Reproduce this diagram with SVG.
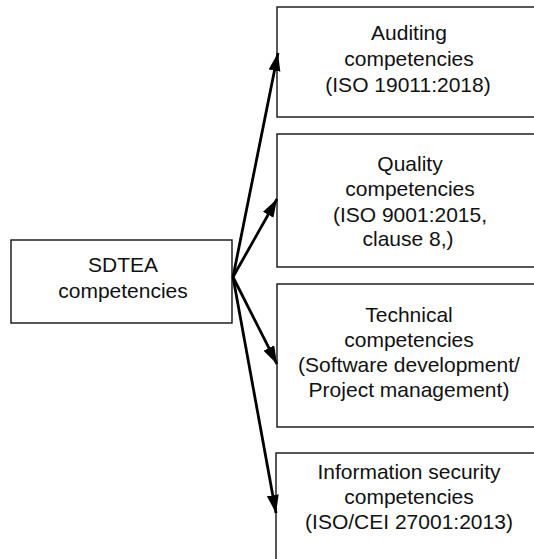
<svg xmlns="http://www.w3.org/2000/svg" width="534" height="559" viewBox="0 0 534 559">
<style>
.box{fill:#fff;stroke:#111;stroke-width:1.4}
.lbl{font-family:"Liberation Sans",Arial,sans-serif;font-size:21px;fill:#111;text-anchor:middle}
.conn{stroke:#000;stroke-width:2.8;fill:none}
</style>
<defs>
<marker id="ah" markerUnits="userSpaceOnUse" markerWidth="20" markerHeight="14" refX="18" refY="6" orient="auto">
<path d="M0,0 L18,6 L0,12 Z" fill="#000"/>
</marker>
</defs>
<rect width="534" height="559" fill="#fff"/>
<g id="sdtea">
<rect class="box" x="11" y="240" width="221" height="83"/>
<text class="lbl" x="123" y="272">SDTEA</text>
<text class="lbl" x="123" y="298">competencies</text>
</g>
<g id="auditing">
<rect class="box" x="277" y="7" width="270" height="110"/>
<text class="lbl" x="409" y="40">Auditing</text>
<text class="lbl" x="409" y="66">competencies</text>
<text class="lbl" x="408" y="92">(ISO 19011:2018)</text>
</g>
<g id="quality">
<rect class="box" x="277" y="134" width="270" height="133"/>
<text class="lbl" x="410" y="171">Quality</text>
<text class="lbl" x="410" y="196">competencies</text>
<text class="lbl" x="410" y="221.5">(ISO 9001:2015,</text>
<text class="lbl" x="408" y="246">clause 8,)</text>
</g>
<g id="technical">
<rect class="box" x="277" y="284" width="270" height="143"/>
<text class="lbl" x="409" y="322">Technical</text>
<text class="lbl" x="409" y="347">competencies</text>
<text class="lbl" x="409" y="372">(Software development/</text>
<text class="lbl" x="409" y="397">Project management)</text>
</g>
<g id="infosec">
<rect class="box" x="276" y="453" width="270" height="120"/>
<text class="lbl" x="409" y="479">Information security</text>
<text class="lbl" x="409" y="504">competencies</text>
<text class="lbl" x="409" y="529">(ISO/CEI 27001:2013)</text>
</g>
<g id="connectors">
<line class="conn" x1="233" y1="277" x2="278" y2="53" marker-end="url(#ah)"/>
<line class="conn" x1="233" y1="277" x2="277" y2="199" marker-end="url(#ah)"/>
<line class="conn" x1="233" y1="277" x2="277" y2="364" marker-end="url(#ah)"/>
<line class="conn" x1="233" y1="277" x2="276" y2="513" marker-end="url(#ah)"/>
</g>
</svg>
